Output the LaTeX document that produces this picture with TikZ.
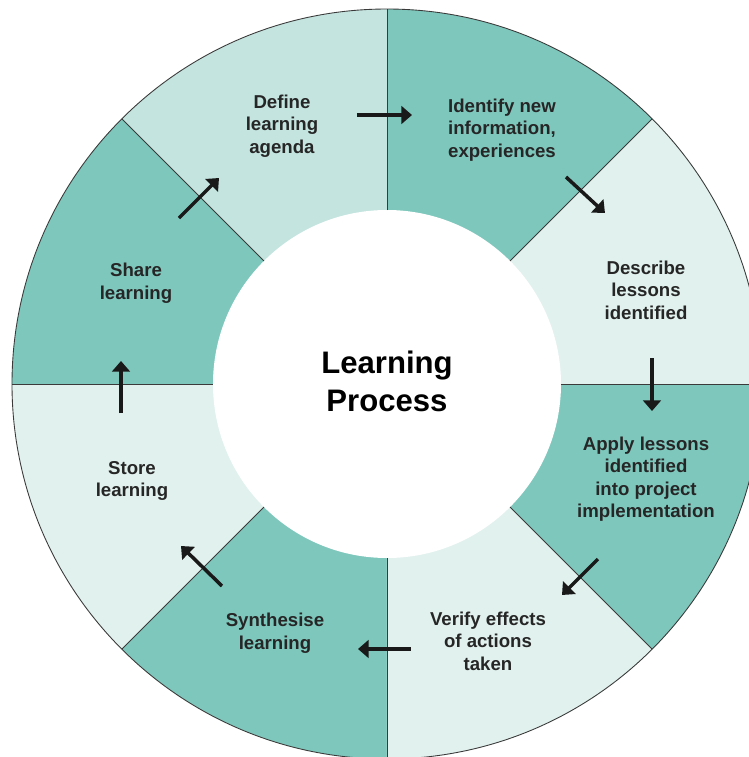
\documentclass[tikz,border=0pt]{standalone}
\usepackage{fontspec}
\setmainfont{Liberation Sans}
\usepackage{xcolor}
\usepackage{tikz}
\usetikzlibrary{positioning, arrows.meta}

\definecolor{tealdark}{HTML}{7EC7BC}
\definecolor{teallight}{HTML}{C4E4DF}
\definecolor{tealpale}{HTML}{E1F1EE}
\definecolor{rimgray}{HTML}{3A3A3A}

\begin{document}
\begin{tikzpicture}[
        stage/.style={align=center, text=black!85, font=\fontsize{10.6}{12.8}\selectfont\bfseries},
        flow/.style={line width=2pt, black!90, -{Triangle[length=6pt, width=10pt]}},
        rim/.style={rimgray, line width=0.5pt}
    ]
        \useasboundingbox (-7.74,-7.46) rectangle (7.24,7.68);
        \clip (-7.74,-7.46) rectangle (7.24,7.68);
        % ring of eight sectors
        \fill[tealpale]  (0,0) -- (0:7.5)   arc[start angle=0,   end angle=45,  radius=7.5] -- cycle;
        \fill[tealdark]  (0,0) -- (45:7.5)  arc[start angle=45,  end angle=90,  radius=7.5] -- cycle;
        \fill[teallight] (0,0) -- (90:7.5)  arc[start angle=90,  end angle=135, radius=7.5] -- cycle;
        \fill[tealdark]  (0,0) -- (135:7.5) arc[start angle=135, end angle=180, radius=7.5] -- cycle;
        \fill[tealpale]  (0,0) -- (180:7.5) arc[start angle=180, end angle=225, radius=7.5] -- cycle;
        \fill[tealdark]  (0,0) -- (225:7.5) arc[start angle=225, end angle=270, radius=7.5] -- cycle;
        \fill[tealpale]  (0,0) -- (270:7.5) arc[start angle=270, end angle=315, radius=7.5] -- cycle;
        \fill[tealdark]  (0,0) -- (315:7.5) arc[start angle=315, end angle=360, radius=7.5] -- cycle;
        \fill[white] (0,0) circle (3.48);
        \foreach \a in {0,45,...,315}
            \draw[rim] (\a:3.48) -- (\a:7.5);
        \draw[rim] (0,0) circle (7.5);
        % texts
        \node[align=center, font=\fontsize{17.7}{21.6}\selectfont\bfseries] (title) at (0,0.06) {Learning\\Process};
        \node[stage] (define)   at (-2.10,5.16)  {Define\\learning\\agenda};
        \node[stage] (identify) at (2.30,5.08)   {Identify new\\information,\\experiences};
        \node[stage] (describe) at (5.18,1.88)   {Describe\\lessons\\identified};
        \node[stage] (apply)    at (5.18,-1.90)  {Apply lessons\\identified\\into project\\implementation};
        \node[stage] (verify)   at (2.02,-5.14)  {Verify effects\\of actions\\taken};
        \node[stage] (synth)    at (-2.24,-4.98) {Synthesise\\learning};
        \node[stage] (store)    at (-5.10,-1.94) {Store\\learning};
        \node[stage] (share)    at (-5.02,2.02)  {Share\\learning};
        % arrows across the sector borders
        \coordinate (f1a) at (-0.60,5.38);  \coordinate (f1b) at (0.50,5.38);
        \coordinate (f2a) at (3.58,4.14);   \coordinate (f2b) at (4.36,3.42);
        \coordinate (f3a) at (5.30,0.52);   \coordinate (f3b) at (5.30,-0.54);
        \coordinate (f4a) at (4.22,-3.50);  \coordinate (f4b) at (3.50,-4.22);
        \coordinate (f5a) at (0.48,-5.30);  \coordinate (f5b) at (-0.58,-5.30);
        \coordinate (f6a) at (-3.30,-4.04); \coordinate (f6b) at (-4.12,-3.24);
        \coordinate (f7a) at (-5.32,-0.58); \coordinate (f7b) at (-5.32,0.46);
        \coordinate (f8a) at (-4.16,3.32);  \coordinate (f8b) at (-3.36,4.12);
        \draw[flow] (f1a) -- (f1b);
        \draw[flow] (f2a) -- (f2b);
        \draw[flow] (f3a) -- (f3b);
        \draw[flow] (f4a) -- (f4b);
        \draw[flow] (f5a) -- (f5b);
        \draw[flow] (f6a) -- (f6b);
        \draw[flow] (f7a) -- (f7b);
        \draw[flow] (f8a) -- (f8b);
    \end{tikzpicture}
\end{document}
